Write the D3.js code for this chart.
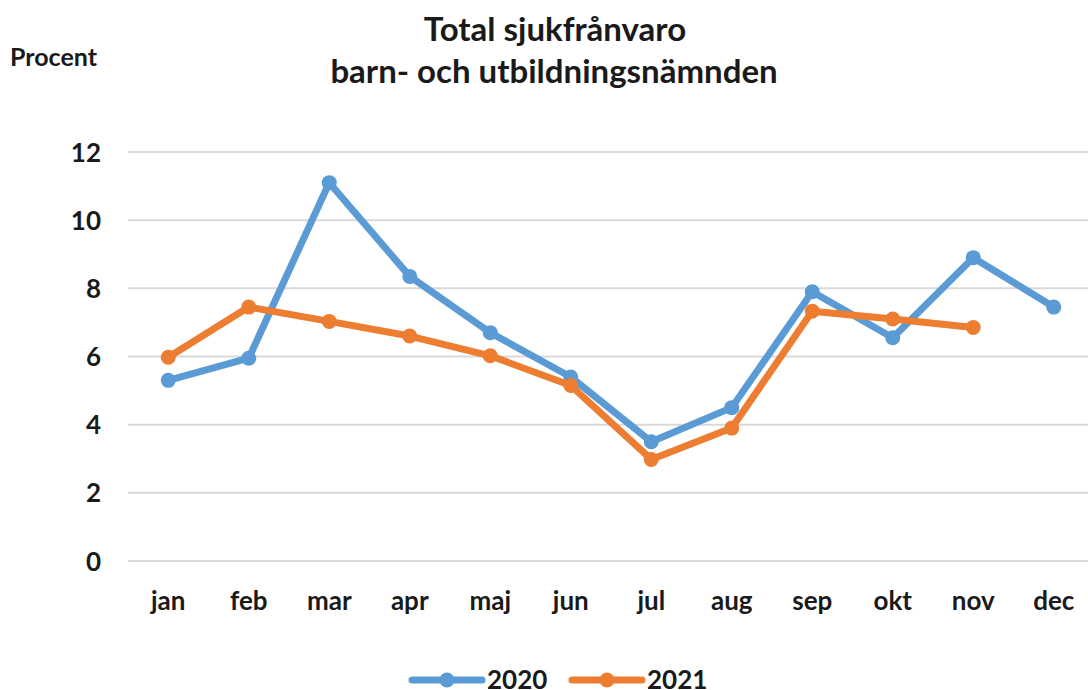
<!DOCTYPE html>
<html lang="sv">
    <head>
        <meta charset="utf-8">
        <title>Total sjukfrånvaro</title>
        <script type="text/javascript" src="https://cdn.jsdelivr.net/npm/d3@7"></script>
        <style type="text/css">
            body { margin: 0; background: #fff; }
            text { font-family: Lato, "Open Sans", sans-serif; font-weight: bold; fill: #1a1a1a; }
        </style>
    </head>

    <body>
        <script type="text/javascript">
            var months = ["jan", "feb", "mar", "apr", "maj", "jun", "jul", "aug", "sep", "okt", "nov", "dec"];
            var values2020 = [5.3, 5.95, 11.1, 8.35, 6.7, 5.4, 3.5, 4.5, 7.9, 6.55, 8.9, 7.45];
            var values2021 = [5.98, 7.45, 7.03, 6.6, 6.02, 5.15, 2.98, 3.9, 7.33, 7.1, 6.85, null];
            var yTicks = [0, 2, 4, 6, 8, 10, 12];

            var series = [
                { name: "2020", values: values2020, color: "#5b9bd5" },
                { name: "2021", values: values2021, color: "#ed7d31" }
            ];

            // Dimensions of svg and plot area
            var w = 1088;
            var h = 690;
            var plotLeft = 128, plotRight = 1094, plotTop = 152, plotBottom = 561;

            var svg = d3.select("body")
                        .append("svg")
                        .attr("width", w)
                        .attr("height", h);

            var x = d3.scaleBand()
                      .domain(months)
                      .range([plotLeft, plotRight]);

            var y = d3.scaleLinear()
                      .domain([0, 12])
                      .range([plotBottom, plotTop]);

            // Horizontal gridlines
            svg.selectAll("line.grid")
                .data(yTicks)
                .enter()
                .append("line")
                .attr("class", "grid")
                .attr("x1", plotLeft)
                .attr("x2", w)
                .attr("y1", function(d) { return y(d); })
                .attr("y2", function(d) { return y(d); })
                .attr("stroke", "#d9d9d9")
                .attr("stroke-width", 2);

            // Y axis labels
            var yAxis = d3.axisLeft(y).tickValues(yTicks).tickSize(0).tickPadding(0);
            svg.append("g")
                .attr("transform", "translate(101,0)")
                .call(yAxis)
                .call(function(g) { g.select(".domain").remove(); })
                .selectAll("text")
                .attr("font-size", "26px")
                .style("font-family", "Lato, 'Open Sans', sans-serif")
                .attr("dy", "0.35em");

            // X axis labels
            var xAxis = d3.axisBottom(x).tickSize(0).tickPadding(0);
            svg.append("g")
                .attr("transform", "translate(0,601)")
                .call(xAxis)
                .call(function(g) { g.select(".domain").remove(); })
                .selectAll("text")
                .attr("font-size", "26px")
                .style("font-family", "Lato, 'Open Sans', sans-serif")
                .attr("dy", "0.35em");

            var line = d3.line()
                         .defined(function(d) { return d != null; })
                         .x(function(d, i) { return x(months[i]) + x.bandwidth() / 2; })
                         .y(function(d) { return y(d); });

            series.forEach(function(s) {
                svg.append("path")
                    .attr("d", line(s.values))
                    .attr("fill", "none")
                    .attr("stroke", s.color)
                    .attr("stroke-width", 7)
                    .attr("stroke-linejoin", "round");

                svg.selectAll("circle.s" + s.name)
                    .data(s.values.map(function(v, i) { return { v: v, m: months[i] }; })
                                  .filter(function(d) { return d.v != null; }))
                    .enter()
                    .append("circle")
                    .attr("cx", function(d) { return x(d.m) + x.bandwidth() / 2; })
                    .attr("cy", function(d) { return y(d.v); })
                    .attr("r", 7.5)
                    .attr("fill", s.color);
            });

            // Title
            svg.append("text")
                .attr("x", 555)
                .attr("y", 41)
                .attr("text-anchor", "middle")
                .attr("font-size", "33px")
                .text("Total sjukfrånvaro");
            svg.append("text")
                .attr("x", 554)
                .attr("y", 83)
                .attr("text-anchor", "middle")
                .attr("font-size", "33px")
                .text("barn- och utbildningsnämnden");

            // Y axis title
            svg.append("text")
                .attr("x", 10)
                .attr("y", 66)
                .attr("font-size", "25px")
                .text("Procent");

            // Legend
            var legendX = [412, 572];
            series.forEach(function(s, i) {
                var g = svg.append("g").attr("transform", "translate(" + legendX[i] + ",680)");
                g.append("line")
                    .attr("x1", 0).attr("x2", 70)
                    .attr("y1", 0).attr("y2", 0)
                    .attr("stroke", s.color)
                    .attr("stroke-width", 7)
                    .attr("stroke-linecap", "round");
                g.append("circle")
                    .attr("cx", 35).attr("cy", 0).attr("r", 7.5)
                    .attr("fill", s.color);
                g.append("text")
                    .attr("x", 75)
                    .attr("y", 0)
                    .attr("dy", "0.35em")
                    .attr("font-size", "26px")
                    .text(s.name);
            });
        </script>
    </body>
</html>
